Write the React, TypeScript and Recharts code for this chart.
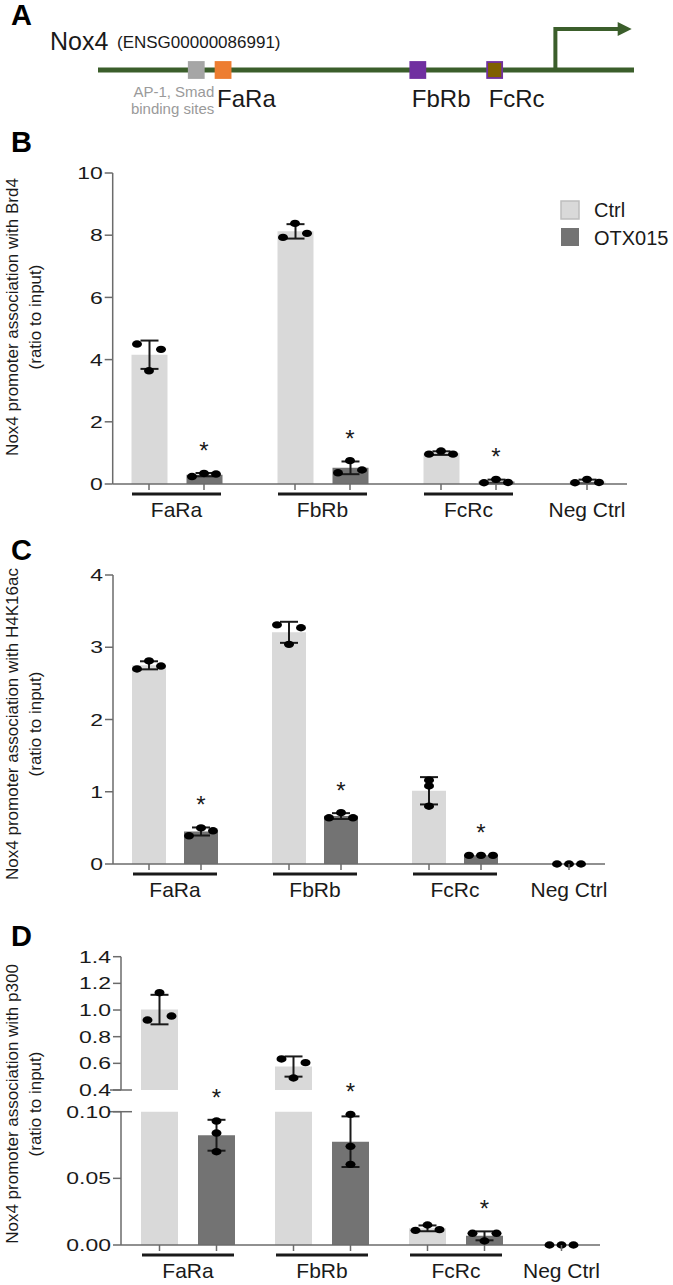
import React from "react";
import { ComposedChart, Bar, Scatter, ErrorBar, Line, XAxis, YAxis, ReferenceLine } from "recharts";

const FONT = "'Liberation Sans', Arial, Helvetica, sans-serif";
const INK = "#1a1a1a";
const AXIS = "#6b6b6b";
const CTRL = "#d9d9d9";
const OTX = "#737373";
const GREEN = "#3b5e2b";
const W = 673;

// ---- panel A: Nox4 promoter schematic (bp relative to TSS, schematic only)
const promoterSpan: [number, number] = [-2560, 440];
const tssPath = [
  { bp: 0, level: 0 },
  { bp: 0, level: 1 },
  { bp: 360, level: 1 },
];
const siteLabels = ["AP-1, Smad|binding sites", "FaRa", "FbRb", "FcRc"];
const siteBp = [-2010, -1860, -770, -340];
const siteFill = ["#a6a6a6", "#ed7d31", "#7030a0", "#7f6000"];
const siteEdge = ["#a6a6a6", "#ed7d31", "#7030a0", "#7030a0"];

// ---- ChIP-qPCR, ratio to input, three replicates per bar
const groups = ["FaRa", "FbRb", "FcRc", "Neg Ctrl"];
const significant = [true, true, true, false]; // OTX015 vs Ctrl

const brd4Ctrl = [[4.5, 4.33, 3.64], [7.93, 8.38, 8.06], [0.96, 1.06, 0.96], [0.04, 0.15, 0.05]];
const brd4Otx = [[0.24, 0.34, 0.32], [0.36, 0.75, 0.45], [0.04, 0.15, 0.05], null];

const h4Ctrl = [[2.81, 2.7, 2.74], [3.31, 3.04, 3.27], [1.16, 1.08, 0.8], [0, 0, 0]];
const h4Otx = [[0.5, 0.39, 0.46], [0.64, 0.71, 0.64], [0.12, 0.12, 0.12], null];

const p300Ctrl = [[0.925, 1.13, 0.955], [0.633, 0.49, 0.605], [0.011, 0.015, 0.0115], [0, 0, 0]];
const p300Otx = [[0.093, 0.084, 0.07], [0.098, 0.074, 0.0605], [0.0088, 0.003, 0.0088], null];

const brd4Ticks = [0, 2, 4, 6, 8, 10];
const h4Ticks = [0, 1, 2, 3, 4];
const p300HighTicks = [0.4, 0.6, 0.8, 1.0, 1.2, 1.4];
const p300LowTicks = [0, 0.05, 0.1];

const yTitles = [
  "Nox4 promoter association with Brd4",
  "Nox4 promoter association with H4K16ac",
  "Nox4 promoter association with p300",
];

const mean = (v: number[]) => v.reduce((a, b) => a + b, 0) / v.length;
const sd = (v: number[]) => {
  const m = mean(v);
  return Math.sqrt(v.reduce((a, b) => a + (b - m) ** 2, 0) / (v.length - 1));
};

// spread overlapping replicate dots sideways, like a column scatter
function spreadSlots(vals: number[], pxPerUnit: number) {
  const order = vals.map((_, i) => i).sort((a, b) => vals[b] - vals[a]);
  const clusters: number[][] = [];
  order.forEach((i, k) => {
    if (k > 0 && (vals[order[k - 1]] - vals[i]) * pxPerUnit < 5.5) clusters[clusters.length - 1].push(i);
    else clusters.push([i]);
  });
  const slots = vals.map(() => 0);
  clusters.forEach((c) => {
    if (c.length === 2) {
      const [a, b] = [...c].sort((x, y) => x - y);
      slots[a] = -1;
      slots[b] = 1;
    } else if (c.length === 3) {
      const rest = c.slice(1).sort((x, y) => x - y);
      slots[c[0]] = 0;
      slots[rest[0]] = -1;
      slots[rest[1]] = 1;
    }
  });
  return slots;
}

type Seg = { lo: number; hi: number; pxPerUnit: number };

function buildRows(ctrl: (number[] | null)[], otx: (number[] | null)[], seg: Seg) {
  const inSeg = (v: number) => v >= seg.lo && v <= seg.hi;
  return groups.map((g, i) => {
    const row: any = { group: g, star: null };
    ([["c", ctrl[i]], ["o", otx[i]]] as [string, number[] | null][]).forEach(([s, reps]) => {
      if (!reps) {
        row[s + "Bar"] = null;
        row[s + "Err"] = null;
        [0, 1, 2].forEach((k) => (row[s + k] = null));
        return;
      }
      const m = mean(reps);
      row[s + "Bar"] = m < seg.lo ? null : Math.min(m, seg.hi);
      row[s + "Err"] = inSeg(m) ? sd(reps) : null;
      const slots = spreadSlots(reps, seg.pxPerUnit);
      reps.forEach((v, k) => {
        row[s + k] = inSeg(v) ? v : null;
        row[s + "Slot" + k] = slots[k];
      });
    });
    const o = otx[i];
    if (significant[i] && o && inSeg(mean(o))) row.star = Math.max(mean(o) + sd(o), ...o);
    return row;
  });
}

const singlesOf = (otx: (number[] | null)[]) => groups.filter((_, i) => otx[i] === null);

const dotShape = (s: string, k: number, dx: number) => (p: any) => {
  const row = p.payload || {};
  if (row[s + k] == null || p.cy == null || isNaN(p.cy)) return <g />;
  const x = p.cx + dx + (row[s + "Slot" + k] || 0) * 12;
  return <ellipse cx={x} cy={p.cy} rx={5} ry={3.7} fill="#000" />;
};

const starShape = (dx: number) => (p: any) => {
  const row = p.payload || {};
  if (row.star == null || p.cy == null || isNaN(p.cy)) return <g />;
  return (
    <text x={p.cx + dx} y={p.cy - 14} textAnchor="middle" fontSize={24} fill={INK} fontFamily={FONT}>
      *
    </text>
  );
};

function GroupTick(props: any) {
  const { x, y, payload, off, half, singles } = props;
  const single = singles.includes(payload.value);
  return (
    <g>
      <line x1={x - off} x2={x - off} y1={y} y2={y + 6} stroke={AXIS} strokeWidth={1.5} />
      {!single && <line x1={x + off} x2={x + off} y1={y} y2={y + 6} stroke={AXIS} strokeWidth={1.5} />}
      {!single && <line x1={x - half} x2={x + half} y1={y + 10} y2={y + 10} stroke={INK} strokeWidth={3} />}
      <text x={single ? x - off : x} y={y + 33} textAnchor="middle" fontSize={21} fill={INK} fontFamily={FONT}>
        {payload.value}
      </text>
    </g>
  );
}

function ValueTick(props: any) {
  const { x, y, payload, digits, breakAt } = props;
  const v = Number(payload.value);
  const isBreak = breakAt !== undefined && Math.abs(v - breakAt) < 1e-9;
  return (
    <g>
      {isBreak && <line x1={x - 1} x2={x + 21} y1={y} y2={y} stroke={AXIS} strokeWidth={1.5} />}
      <text
        transform={`translate(${x},${y}) scale(1.35,1)`}
        textAnchor="end"
        dy="0.36em"
        fontSize={17}
        fill={INK}
        fontFamily={FONT}
      >
        {v.toFixed(digits)}
      </text>
    </g>
  );
}

type ChipProps = {
  rows: any[];
  top: number;
  height: number;
  margin: { top: number; right: number; bottom: number; left: number };
  pad: { left: number; right: number };
  domain: [number, number];
  ticks: number[];
  digits: number;
  barSize: number;
  barGap: number;
  singles: string[];
  showX?: boolean;
  xHeight?: number;
  breakAt?: number;
};

function ChipChart(p: ChipProps) {
  const off = (p.barSize + p.barGap) / 2;
  const half = p.barSize + p.barGap / 2 - 1;
  return (
    <div style={{ position: "absolute", left: 0, top: p.top }}>
      <ComposedChart width={W} height={p.height} data={p.rows} margin={p.margin} barGap={p.barGap}>
        <XAxis
          dataKey="group"
          type="category"
          hide={!p.showX}
          height={p.xHeight ?? 46}
          padding={p.pad}
          interval={0}
          tickSize={0}
          tickMargin={0}
          tickLine={false}
          axisLine={{ stroke: AXIS, strokeWidth: 1.5 }}
          tick={(t: any) => <GroupTick {...t} off={off} half={half} singles={p.singles} />}
        />
        <YAxis
          type="number"
          domain={p.domain}
          ticks={p.ticks}
          interval={0}
          width={60}
          tickSize={8}
          tickMargin={2}
          axisLine={{ stroke: AXIS, strokeWidth: 1.5 }}
          tickLine={{ stroke: AXIS, strokeWidth: 1.5 }}
          tick={(t: any) => <ValueTick {...t} digits={p.digits} breakAt={p.breakAt} />}
        />
        <Bar dataKey="cBar" fill={CTRL} barSize={p.barSize} isAnimationActive={false}>
          <ErrorBar dataKey="cErr" width={9} stroke={INK} strokeWidth={2} />
        </Bar>
        <Bar dataKey="oBar" fill={OTX} barSize={p.barSize} isAnimationActive={false}>
          <ErrorBar dataKey="oErr" width={9} stroke={INK} strokeWidth={2} />
        </Bar>
        {[0, 1, 2].map((k) => (
          <Scatter key={"c" + k} dataKey={"c" + k} isAnimationActive={false} shape={dotShape("c", k, -off)} />
        ))}
        {[0, 1, 2].map((k) => (
          <Scatter key={"o" + k} dataKey={"o" + k} isAnimationActive={false} shape={dotShape("o", k, off)} />
        ))}
        <Scatter dataKey="star" isAnimationActive={false} shape={starShape(off)} />
      </ComposedChart>
    </div>
  );
}

function SiteMark(props: any) {
  const { cx, cy, payload } = props;
  const i = payload.idx;
  const lines = String(payload.label).split("|");
  return (
    <g>
      <rect x={cx - 7.5} y={cy - 8} width={15} height={16} fill={siteFill[i]} stroke={siteEdge[i]} strokeWidth={1.8} />
      {lines.length > 1 ? (
        <text fill="#9a9a9a" fontSize={15} textAnchor="end" fontFamily={FONT}>
          <tspan x={cx + 18} y={cy + 27}>{lines[0]}</tspan>
          <tspan x={cx + 18} y={cy + 44}>{lines[1]}</tspan>
        </text>
      ) : (
        <text x={cx - 6} y={cy + 37} fontSize={24} fill={INK} fontFamily={FONT}>
          {lines[0]}
        </text>
      )}
    </g>
  );
}

function ArrowHead(props: any) {
  const { cx, cy, index } = props;
  if (index !== tssPath.length - 1) return <g key={"d" + index} />;
  return <path key="head" d={`M${cx - 2},${cy - 7} L${cx + 12},${cy} L${cx - 2},${cy + 7} Z`} fill={GREEN} />;
}

function PromoterMap() {
  const sites = siteBp.map((bp, i) => ({ bp, level: 0, label: siteLabels[i], idx: i }));
  return (
    <div style={{ position: "absolute", left: 0, top: 0 }}>
      <ComposedChart width={W} height={130} data={tssPath} margin={{ top: 29, right: 39, bottom: 60, left: 98 }}>
        <XAxis dataKey="bp" type="number" domain={promoterSpan} hide />
        <YAxis type="number" domain={[0, 1]} hide />
        <ReferenceLine
          segment={[
            { x: promoterSpan[0], y: 0 },
            { x: promoterSpan[1], y: 0 },
          ]}
          stroke={GREEN}
          strokeWidth={5}
          ifOverflow="visible"
        />
        <Line dataKey="level" type="linear" stroke={GREEN} strokeWidth={4} dot={ArrowHead} activeDot={false} isAnimationActive={false} />
        <Scatter data={sites} dataKey="level" shape={SiteMark} isAnimationActive={false} />
      </ComposedChart>
    </div>
  );
}

function YTitle({ cy, text }: { cy: number; text: string }) {
  return (
    <g fontSize={17} fill={INK} textAnchor="middle">
      <text transform={`translate(18,${cy}) rotate(-90)`}>{text}</text>
      <text transform={`translate(41,${cy}) rotate(-90)`}>(ratio to input)</text>
    </g>
  );
}

export default function App() {
  const brd4Rows = buildRows(brd4Ctrl, brd4Otx, { lo: 0, hi: 10, pxPerUnit: 311 / 10 });
  const h4Rows = buildRows(h4Ctrl, h4Otx, { lo: 0, hi: 4, pxPerUnit: 289 / 4 });
  const p300High = buildRows(p300Ctrl, p300Otx, { lo: 0.4, hi: 1.4, pxPerUnit: 133.3 });
  const p300Low = buildRows(p300Ctrl, p300Otx, { lo: 0, hi: 0.1, pxPerUnit: 1333 });

  return (
    <div style={{ position: "absolute", left: 0, top: 0, width: W, height: 1285, background: "#fff", fontFamily: FONT }}>
      <PromoterMap />

      <ChipChart
        rows={brd4Rows}
        top={150}
        height={380}
        margin={{ top: 23, right: 46, bottom: 0, left: 52.7 }}
        pad={{ left: -9.2, right: -60.5 }}
        domain={[0, 10]}
        ticks={brd4Ticks}
        digits={0}
        barSize={36}
        barGap={19}
        singles={singlesOf(brd4Otx)}
        showX
      />

      <ChipChart
        rows={h4Rows}
        top={550}
        height={360}
        margin={{ top: 25, right: 68, bottom: 0, left: 53 }}
        pad={{ left: -8, right: -60 }}
        domain={[0, 4]}
        ticks={h4Ticks}
        digits={0}
        barSize={34}
        barGap={18}
        singles={singlesOf(h4Otx)}
        showX
      />

      <ChipChart
        rows={p300High}
        top={930}
        height={175}
        margin={{ top: 26.7, right: 73, bottom: 15, left: 61 }}
        pad={{ left: 0, right: -57 }}
        domain={[0.4, 1.4]}
        ticks={p300HighTicks}
        digits={1}
        barSize={37}
        barGap={20}
        singles={singlesOf(p300Otx)}
        breakAt={0.4}
      />

      <ChipChart
        rows={p300Low}
        top={1060}
        height={225}
        margin={{ top: 51.7, right: 73, bottom: 0, left: 61 }}
        pad={{ left: 0, right: -57 }}
        domain={[0, 0.1]}
        ticks={p300LowTicks}
        digits={2}
        barSize={37}
        barGap={20}
        singles={singlesOf(p300Otx)}
        showX
        xHeight={40}
        breakAt={0.1}
      />

      <svg
        width={W}
        height={1285}
        style={{ position: "absolute", left: 0, top: 0, pointerEvents: "none" }}
        fontFamily={FONT}
      >
        <g fontWeight="bold" fontSize={29} fill="#000">
          <text x={11} y={25}>A</text>
          <text x={11} y={152}>B</text>
          <text x={11} y={560}>C</text>
          <text x={11} y={946}>D</text>
        </g>
        <text x={50} y={50} fontSize={25} fill={INK}>Nox4</text>
        <text x={117} y={48} fontSize={17} fill={INK}>(ENSG00000086991)</text>

        <YTitle cy={317} text={yTitles[0]} />
        <YTitle cy={724} text={yTitles[1]} />
        <YTitle cy={1104} text={yTitles[2]} />

        <rect x={561} y={201} width={18} height={18} fill={CTRL} stroke="#bdbdbd" strokeWidth={1.5} />
        <rect x={561} y={228} width={18} height={18} fill={OTX} />
        <text x={594} y={217} fontSize={20} fill={INK}>Ctrl</text>
        <text x={594} y={245} fontSize={20} fill={INK}>OTX015</text>
      </svg>
    </div>
  );
}
